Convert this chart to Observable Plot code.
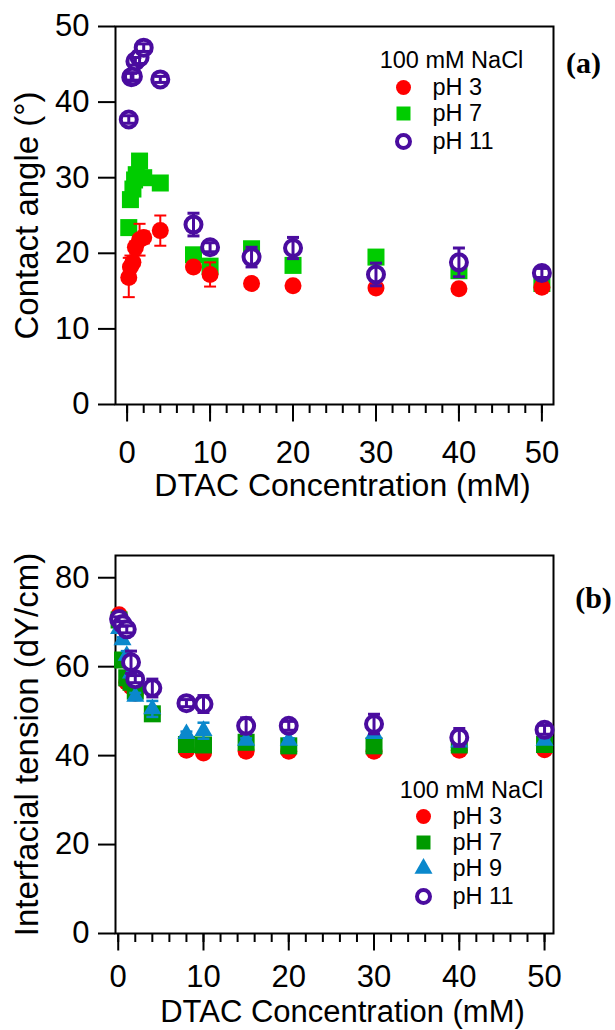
<!DOCTYPE html>
<html><head><meta charset="utf-8">
<script src="https://cdn.jsdelivr.net/npm/d3@7"></script>
<script src="https://cdn.jsdelivr.net/npm/@observablehq/plot@0.6"></script>
<style>
body{margin:0;background:#fff;}
#wrap{position:relative;width:615px;height:1030px;overflow:hidden;background:#fff;}
#wrap > div{position:absolute;left:0;}
</style></head><body>
<div id="wrap"><div id="pa" style="top:0px"></div><div id="pb" style="top:520px"></div></div>
<script>
// ---------- Panel (a): contact angle ----------
const aConcPH3 = [0.2, 0.4, 0.7, 1.0, 1.5, 2.0, 4, 8, 10, 15, 20, 30, 40, 50];
const aAnglePH3 = [16.8, 18.2, 18.8, 20.8, 21.8, 22.1, 23.0, 18.2, 17.2, 16.0, 15.7, 15.4, 15.3, 15.5];
const aErrPH3 = [2.6, 1.5, 0.6, 0.8, 2.1, 0.8, 2.0, 0.6, 1.6, 0.3, 0.3, 0.3, 0.3, 0.5];

const aConcPH7 = [0.2, 0.4, 0.7, 0.9, 1.1, 1.5, 2.0, 4, 8, 10, 15, 20, 30, 40, 50];
const aAnglePH7 = [23.4, 27.1, 28.5, 29.7, 30.4, 32.2, 30.0, 29.3, 19.8, 18.3, 20.6, 18.4, 19.5, 17.7, 16.0];

const aConcPH11 = [0.2, 0.5, 0.7, 1.0, 1.5, 2.0, 4, 8, 10, 15, 20, 30, 40, 50];
const aAnglePH11 = [37.7, 43.3, 43.4, 45.4, 45.9, 47.2, 43.0, 23.8, 20.8, 19.5, 20.7, 17.2, 18.8, 17.4];
const aErrPH11 = [0.5, 0.5, 0.5, 0.5, 0.8, 0.5, 0.4, 1.5, 0.6, 1.3, 1.4, 1.5, 1.9, 0.6];

const aYTicks = [0, 10, 20, 30, 40, 50];

// ---------- Panel (b): interfacial tension ----------
const bConc = [0.1, 0.5, 1, 1.5, 2, 4, 8, 10, 15, 20, 30, 40, 50];
const bTensionPH3 = [71.7, 69.5, 56.5, 55.5, 54.0, 49.6, 41.2, 40.6, 41.0, 41.0, 41.0, 41.2, 41.3];
const bTensionPH7 = [70.5, 61.5, 57.5, 56.5, 54.5, 49.4, 42.5, 42.4, 43.0, 42.2, 42.2, 42.4, 42.5];
const bTensionPH9 = [68.5, 66.0, 62.5, 58.5, 53.3, 50.5, 44.9, 45.6, 43.4, 43.4, 44.9, 43.0, 43.4];
const bErrPH9 = [0.5, 0.6, 1.0, 1.0, 0.8, 1.8, 0.5, 1.8, 0.5, 0.5, 0.8, 0.5, 0.5];
const bTensionPH11 = [70.7, 69.6, 68.4, 61.0, 57.2, 55.2, 51.8, 51.6, 46.7, 46.7, 47.1, 44.1, 45.8];
const bErrPH11 = [0.5, 0.5, 0.8, 2.5, 0.8, 2.0, 0.8, 1.9, 1.8, 1.0, 2.2, 2.0, 1.0];

const bYTicks = [0, 20, 40, 60, 80];

const xMajorTicks = [0, 10, 20, 30, 40, 50];
const xMinorTicks = d3.range(0, 51, 2);

const legendTitle = "100 mM NaCl";
const aLegendLabels = ["pH 3", "pH 7", "pH 11"];
const bLegendLabels = ["pH 3", "pH 7", "pH 9", "pH 11"];

// ---------- styling ----------
const RED = "#ff0000", GREEN_A = "#00cc00", GREEN_B = "#009a00", BLUE = "#0a88cc", PURPLE = "#4a0c9f";
const sans = "'Liberation Sans', Arial, Helvetica, sans-serif";
const serif = "'Liberation Serif', 'Times New Roman', serif";

const capSymbol = {
  draw(ctx, size) {
    const w = Math.sqrt(size / Math.PI);
    ctx.moveTo(-w, 0); ctx.lineTo(w, 0);
  }
};

function rows(xs, ys, errs) {
  return xs.map((x, i) => ({x, y: ys[i], e: errs ? errs[i] : 0}));
}

function errorMarks(data, color, sw) {
  return [
    Plot.ruleX(data, {x: "x", y1: d => d.y - d.e, y2: d => d.y + d.e, stroke: color, strokeWidth: sw}),
    Plot.dot(data, {x: "x", y: d => d.y + d.e, symbol: capSymbol, r: 6, stroke: color, strokeWidth: sw, fill: "none"}),
    Plot.dot(data, {x: "x", y: d => d.y - d.e, symbol: capSymbol, r: 6, stroke: color, strokeWidth: sw, fill: "none"})
  ];
}

function axes(yTicks, yLabel, labelPad, titleDy, titleSize) {
  return [
    Plot.frame({stroke: "black", strokeWidth: 2}),
    Plot.axisY({ticks: yTicks, tickSize: 17, tickPadding: 9, fontSize: 31, strokeWidth: 2, label: null}),
    Plot.axisX({ticks: xMinorTicks, tickSize: 9, tickFormat: () => "", strokeWidth: 2, label: null}),
    Plot.axisX({ticks: xMajorTicks, tickSize: 17.5, tickPadding: labelPad, fontSize: 31, strokeWidth: 2, label: null}),
    Plot.text([yLabel], {text: d => d, frameAnchor: "left", dx: -88, rotate: -90, fontSize: 33, textAnchor: "middle", lineAnchor: "middle", fill: "black"}),
    Plot.text(["DTAC Concentration (mM)"], {text: d => d, frameAnchor: "bottom", dx: 8, dy: titleDy, fontSize: titleSize, textAnchor: "middle", lineAnchor: "middle", fill: "black"})
  ];
}

function legend(labels, symbols, dx, titleDx, titleDy, rowDys) {
  const marks = [
    Plot.text([legendTitle], {text: d => d, frameAnchor: "top-left", dx: titleDx, dy: titleDy, fontSize: 23.5, textAnchor: "middle", lineAnchor: "middle", fill: "black"})
  ];
  labels.forEach((lab, i) => {
    const s = symbols[i];
    marks.push(Plot.dot([0], {frameAnchor: "top-left", dx: dx, dy: rowDys[i], symbol: s.symbol, r: s.r, fill: s.fill, stroke: s.stroke, strokeWidth: s.sw || 0}));
    marks.push(Plot.text([lab], {text: d => d, frameAnchor: "top-left", dx: dx + 29, dy: rowDys[i], fontSize: 23.5, textAnchor: "start", lineAnchor: "middle", fill: "black"}));
  });
  return marks;
}

// ---------- Panel (a) ----------
const aR = rows(aConcPH3, aAnglePH3, aErrPH3);
const aG = rows(aConcPH7, aAnglePH7);
const aP = rows(aConcPH11, aAnglePH11, aErrPH11);

const plotA = Plot.plot({
  width: 615, height: 520,
  marginLeft: 115, marginRight: 62, marginTop: 26, marginBottom: 116,
  style: {fontFamily: sans, fontSize: "30px", color: "black", background: "white", overflow: "visible"},
  x: {domain: [-1.4, 51.4]},
  y: {domain: [0, 50]},
  marks: [
    ...axes(aYTicks, "Contact angle (°)", 19, 81, 32),
    Plot.dot(aG, {x: "x", y: "y", symbol: "square", r: 9.6, fill: GREEN_A}),
    ...errorMarks(aR, RED, 2),
    Plot.dot(aR, {x: "x", y: "y", symbol: "circle", r: 8.5, fill: RED}),
    Plot.dot(aP, {x: "x", y: "y", symbol: "circle", r: 8, fill: "white", stroke: PURPLE, strokeWidth: 4}),
    ...errorMarks(aP, PURPLE, 3),
    ...legend(aLegendLabels, [
      {symbol: "circle", r: 7.5, fill: RED},
      {symbol: "square", r: 7.9, fill: GREEN_A},
      {symbol: "circle", r: 6.5, fill: "none", stroke: PURPLE, sw: 4}
    ], 288, 336, 34, [61, 87, 115]),
    Plot.text(["(a)"], {text: d => d, frameAnchor: "top-right", dx: 30, dy: 37, fontFamily: serif, fontWeight: "bold", fontSize: 30, textAnchor: "middle", lineAnchor: "middle", fill: "black"})
  ]
});
document.getElementById("pa").appendChild(plotA);

// ---------- Panel (b) ----------
const bR = rows(bConc, bTensionPH3);
const bG = rows(bConc, bTensionPH7);
const bB = rows(bConc, bTensionPH9, bErrPH9);
const bP = rows(bConc, bTensionPH11, bErrPH11);

const plotB = Plot.plot({
  width: 615, height: 510,
  marginLeft: 115, marginRight: 62, marginTop: 35, marginBottom: 97,
  style: {fontFamily: sans, fontSize: "30px", color: "black", background: "white", overflow: "visible"},
  x: {domain: [-0.32, 51.05]},
  y: {domain: [0, 85]},
  marks: [
    ...axes(bYTicks, "Interfacial tension (dY/cm)", 14, 79, 31),
    Plot.dot(bR, {x: "x", y: "y", symbol: "circle", r: 8.5, fill: RED}),
    Plot.dot(bG, {x: "x", y: "y", symbol: "square", r: 9.6, fill: GREEN_B}),
    ...errorMarks(bB, BLUE, 2.5),
    Plot.dot(bB, {x: "x", y: "y", symbol: "triangle", r: 6.7, fill: BLUE}),
    Plot.dot(bP, {x: "x", y: "y", symbol: "circle", r: 8, fill: "white", stroke: PURPLE, strokeWidth: 4}),
    ...errorMarks(bP, PURPLE, 3),
    ...legend(bLegendLabels, [
      {symbol: "circle", r: 7.5, fill: RED},
      {symbol: "square", r: 7.9, fill: GREEN_B},
      {symbol: "triangle", r: 6.7, fill: BLUE},
      {symbol: "circle", r: 6.5, fill: "none", stroke: PURPLE, sw: 4}
    ], 308, 356, 235, [261, 287, 313, 341]),
    Plot.text(["(b)"], {text: d => d, frameAnchor: "top-right", dx: 40, dy: 43, fontFamily: serif, fontWeight: "bold", fontSize: 30, textAnchor: "middle", lineAnchor: "middle", fill: "black"})
  ]
});
document.getElementById("pb").appendChild(plotB);
</script>
</body></html>
